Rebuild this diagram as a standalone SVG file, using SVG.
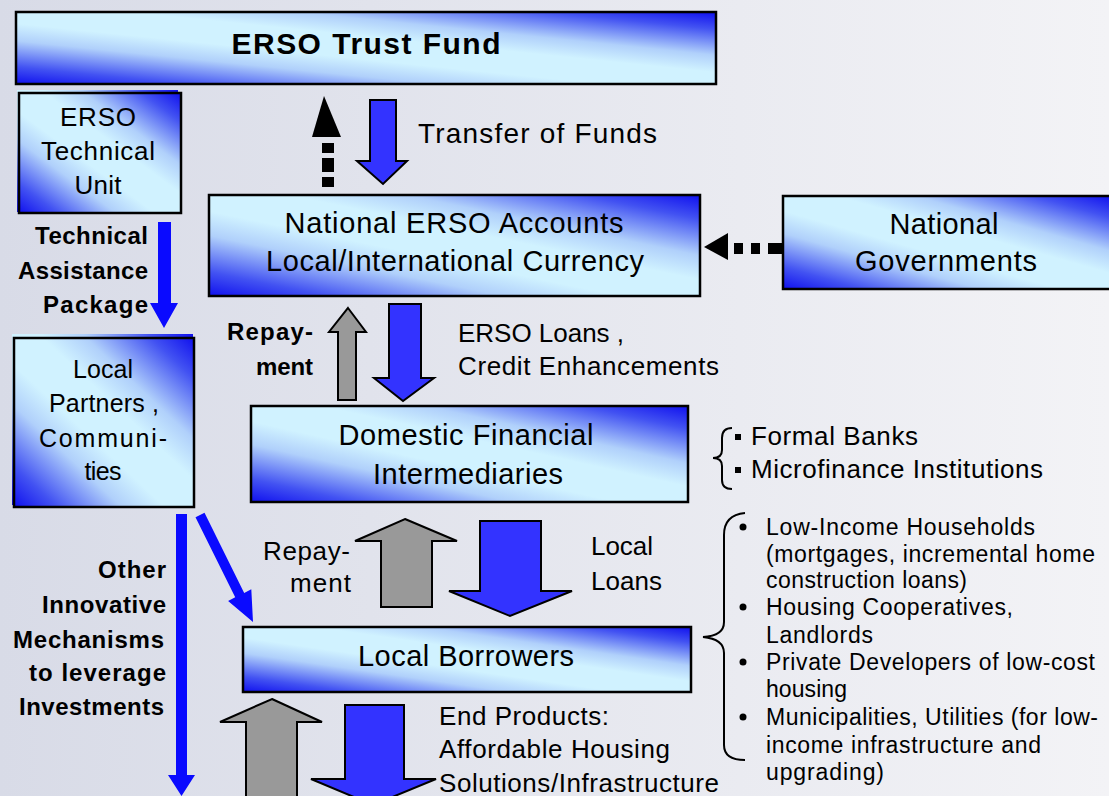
<svg xmlns="http://www.w3.org/2000/svg" width="1109" height="796" viewBox="0 0 1109 796">
<defs>
<linearGradient id="bg" x1="0" y1="0" x2="1" y2="0">
<stop offset="0" stop-color="#d8dbe7"/>
<stop offset="1" stop-color="#f3f3f6"/>
</linearGradient>
<linearGradient id="boxg" x1="0" y1="1" x2="1" y2="0">
<stop offset="0" stop-color="#1010ee"/>
<stop offset="0.12" stop-color="#4252f2"/>
<stop offset="0.3" stop-color="#b0d0fb"/>
<stop offset="0.42" stop-color="#d0f2ff"/>
<stop offset="0.58" stop-color="#d0f2ff"/>
<stop offset="0.7" stop-color="#b0d0fb"/>
<stop offset="0.88" stop-color="#4252f2"/>
<stop offset="1" stop-color="#1010ee"/>
</linearGradient>
<style>
.box{fill:url(#boxg);stroke:#000;stroke-width:2.5}
.fillonly{fill:url(#boxg)}
.t{font-family:"Liberation Sans",Arial,sans-serif;fill:#000}
.bt{font-size:29px;text-anchor:middle}
.lb{font-size:24px;font-weight:bold}
.lr{font-size:26px}
.li{font-size:23px}
.blue{fill:#3333ff;stroke:#000;stroke-width:2}
.gray{fill:#999999;stroke:#000;stroke-width:2}
.pure{fill:#0a0aff}
.blk{fill:#000}
.brace{fill:none;stroke:#000;stroke-width:2}
</style>
</defs>
<rect x="0" y="0" width="1109" height="796" fill="url(#bg)"/>

<g id="trust-fund">
<rect class="box" x="16" y="12" width="700" height="72"/>
<text class="t" x="366" y="54" style="font-size:30px;font-weight:bold" text-anchor="middle" textLength="269">ERSO Trust Fund</text>
</g>

<g id="technical-unit">
<rect class="fillonly" x="17" y="90" width="161" height="122"/>
<rect class="box" x="19" y="93" width="162" height="120"/>
<text class="t" x="98" y="126" style="font-size:26px" text-anchor="middle" textLength="76">ERSO</text>
<text class="t" x="98" y="160" style="font-size:26px" text-anchor="middle" textLength="114">Technical</text>
<text class="t" x="98" y="194" style="font-size:26px" text-anchor="middle" textLength="47">Unit</text>
</g>

<g id="national-accounts">
<rect class="box" x="209" y="195" width="491" height="101"/>
<text class="t bt" x="454" y="233" textLength="339">National ERSO Accounts</text>
<text class="t bt" x="455" y="271" textLength="378">Local/International Currency</text>
</g>

<g id="national-governments">
<rect class="box" x="783" y="196" width="330" height="93"/>
<text class="t bt" x="944" y="234" textLength="109">National</text>
<text class="t bt" x="946" y="271" textLength="182">Governments</text>
</g>

<g id="local-partners">
<rect class="fillonly" x="12" y="334" width="181" height="171"/>
<rect class="box" x="14" y="338" width="180" height="169"/>
<text class="t" x="103" y="378" style="font-size:25px" text-anchor="middle" textLength="60">Local</text>
<text class="t" x="104" y="412" style="font-size:25px" text-anchor="middle" textLength="110">Partners ,</text>
<text class="t" x="103" y="447" style="font-size:25px" text-anchor="middle" textLength="128">Communi-</text>
<text class="t" x="103" y="480" style="font-size:25px" text-anchor="middle" textLength="37">ties</text>
</g>

<g id="domestic-intermediaries">
<rect class="box" x="251" y="406" width="437" height="96"/>
<text class="t bt" x="466" y="445" textLength="255">Domestic Financial</text>
<text class="t bt" x="468" y="484" textLength="190">Intermediaries</text>
</g>

<g id="local-borrowers">
<rect class="box" x="243" y="627" width="448" height="65"/>
<text class="t bt" x="466" y="666" textLength="216">Local Borrowers</text>
</g>

<g id="connectors">
<polygon class="blk" points="324,96 341,137 312,137"/>
<rect class="blk" x="322" y="143" width="12" height="10"/>
<rect class="blk" x="322" y="158" width="12" height="14"/>
<rect class="blk" x="322" y="177" width="12" height="10"/>
<polygon class="blue" points="370,100 396,100 396,161 407,161 383,184 357,161 370,161"/>
<polygon class="blk" points="704,247 728,233 728,260"/>
<rect class="blk" x="734" y="243" width="9" height="11"/>
<rect class="blk" x="751" y="243" width="9" height="11"/>
<rect class="blk" x="768" y="243" width="14" height="11"/>
<polygon class="pure" points="158,222 171,222 171,303 178,303 164,328 150,303 158,303"/>
<polygon class="gray" points="348,308 366,332 356,332 356,400 338,400 338,332 329,332"/>
<polygon class="blue" points="389,304 421,304 421,378 434,378 403,401 374,378 389,378"/>
<polygon class="gray" points="405,519 457,541 432,541 432,607 381,607 381,541 355,541"/>
<polygon class="blue" points="480,521 541,521 541,591 572,591 510,616 449,591 480,591"/>
<polygon class="gray" points="272,699 322,722 297,722 297,800 246,800 246,722 220,722"/>
<polygon class="blue" points="345,705 404,705 404,779 436,779 373,805 311,779 345,779"/>
<polygon class="pure" points="176,514 187,514 187,775 195,775 181.5,796 168,775 176,775"/>
<polygon class="pure" points="204.5,512.8 244.2,592.9 251.3,589.3 253,622 228.1,600.9 235.2,597.3 195.5,517.2"/>
<path class="brace" d="M732,428 Q722,428 722,438 L722,450 Q722,458 713,458 Q722,458 722,466 L722,480 Q722,489 732,489"/>
<path class="brace" d="M745,513 Q724,515 724,535 L724,622 Q724,636 703,637 Q724,639 724,653 L724,745 Q724,760 745,760"/>
</g>

<g id="labels">
<text class="t lb" x="148" y="244" text-anchor="end" textLength="113">Technical</text>
<text class="t lb" x="148" y="279" text-anchor="end" textLength="130">Assistance</text>
<text class="t lb" x="148" y="313" text-anchor="end" textLength="105">Package</text>
<text class="t" x="418" y="143" style="font-size:28px" textLength="239">Transfer of Funds</text>
<text class="t lb" x="313" y="340" text-anchor="end" textLength="86">Repay-</text>
<text class="t lb" x="313" y="375" text-anchor="end" textLength="57">ment</text>
<text class="t lr" x="458" y="342" textLength="166">ERSO Loans ,</text>
<text class="t lr" x="458" y="375" textLength="261">Credit Enhancements</text>
<rect class="blk" x="735" y="434" width="6" height="6"/>
<text class="t" x="751" y="445" style="font-size:26px" textLength="167">Formal Banks</text>
<rect class="blk" x="735" y="467" width="6" height="6"/>
<text class="t" x="751" y="478" style="font-size:26px" textLength="292">Microfinance Institutions</text>
<text class="t lr" x="350" y="560" text-anchor="end" textLength="87">Repay-</text>
<text class="t lr" x="351" y="592" text-anchor="end" textLength="61">ment</text>
<text class="t lr" x="591" y="555" textLength="62">Local</text>
<text class="t lr" x="591" y="590" textLength="71">Loans</text>
<text class="t lb" x="166" y="578" text-anchor="end" textLength="68">Other</text>
<text class="t lb" x="166" y="613" text-anchor="end" textLength="124">Innovative</text>
<text class="t lb" x="164" y="648" text-anchor="end" textLength="151">Mechanisms</text>
<text class="t lb" x="166" y="681" text-anchor="end" textLength="137">to leverage</text>
<text class="t lb" x="164" y="715" text-anchor="end" textLength="145">Investments</text>
<text class="t lr" x="439" y="725" textLength="170">End Products:</text>
<text class="t lr" x="439" y="758" textLength="231">Affordable Housing</text>
<text class="t lr" x="439" y="792" textLength="280">Solutions/Infrastructure</text>
<circle class="blk" cx="743" cy="527" r="3.5"/>
<circle class="blk" cx="743" cy="607" r="3.5"/>
<circle class="blk" cx="743" cy="662" r="3.5"/>
<circle class="blk" cx="743" cy="717" r="3.5"/>
<text class="t li" x="766" y="535" textLength="269">Low-Income Households</text>
<text class="t li" x="766" y="562" textLength="329">(mortgages, incremental home</text>
<text class="t li" x="766" y="588" textLength="201">construction loans)</text>
<text class="t li" x="766" y="615" textLength="247">Housing Cooperatives,</text>
<text class="t li" x="766" y="643" textLength="107">Landlords</text>
<text class="t li" x="766" y="670" textLength="329">Private Developers of low-cost</text>
<text class="t li" x="766" y="697" textLength="81">housing</text>
<text class="t li" x="766" y="725" textLength="332">Municipalities, Utilities (for low-</text>
<text class="t li" x="766" y="753" textLength="275">income infrastructure and</text>
<text class="t li" x="766" y="780" textLength="118">upgrading)</text>
</g>
</svg>
